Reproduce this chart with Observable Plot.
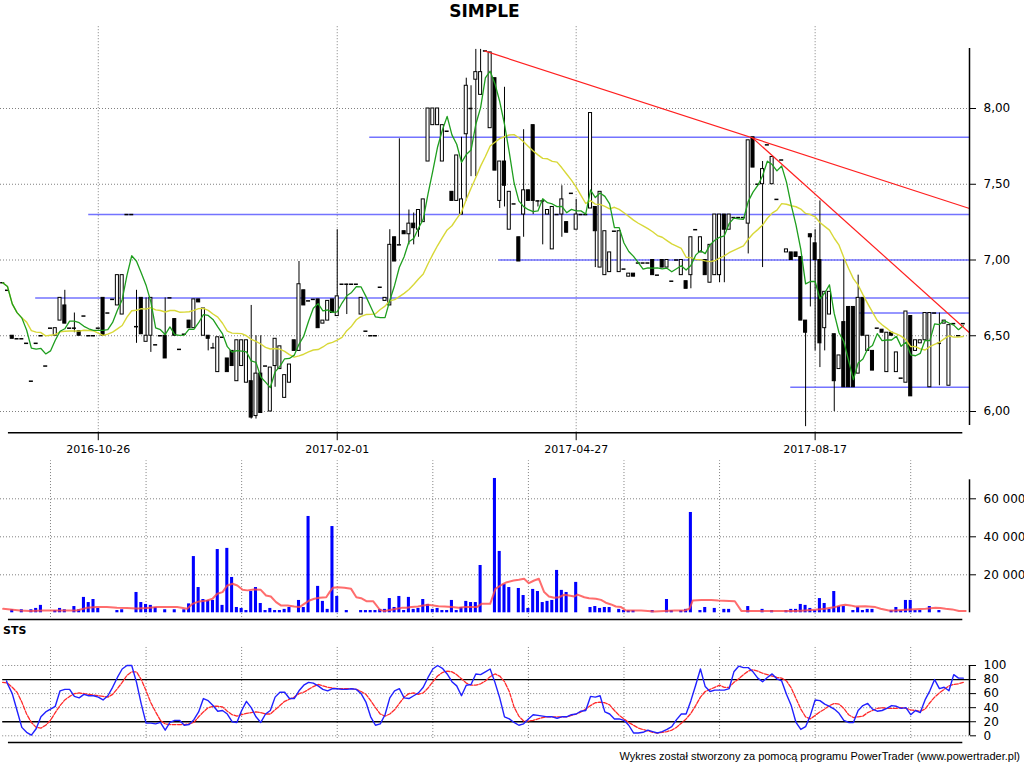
<!DOCTYPE html>
<html><head><meta charset="utf-8">
<script src="https://cdn.jsdelivr.net/npm/d3@7"></script>
<script src="https://cdn.jsdelivr.net/npm/@observablehq/plot@0.6"></script>
<style>
body{margin:0;background:#fff;}
#wrap{position:relative;width:1024px;height:768px;overflow:hidden;background:#fff;font-family:"DejaVu Sans",sans-serif;color:#000;}
#wrap svg{position:absolute;left:0;overflow:visible;}
.title{position:absolute;left:0;width:969px;top:0px;line-height:22px;text-align:center;font-weight:bold;font-size:17px;}
.sts{position:absolute;left:3px;top:624px;line-height:14px;font-weight:bold;font-size:11px;}
.foot{position:absolute;right:4px;top:749px;line-height:15px;font-family:"Liberation Sans",sans-serif;font-size:11px;}
</style></head><body>
<div id="wrap">
<div class="title">SIMPLE</div>
<div class="sts">STS</div>
<div class="foot">Wykres został stworzony za pomocą programu PowerTrader (www.powertrader.pl)</div>
</div>
<script>
// ---- data ----
// price bars: [open, high, low, close], one per session (index = session number)
const priceBars = [
[6.85,6.85,6.85,6.85],[6.80,6.80,6.80,6.80],[6.50,6.50,6.48,6.48],[6.48,6.48,6.48,6.48],[6.48,6.48,6.48,6.48],
[6.45,6.45,6.45,6.45],[6.20,6.20,6.20,6.20],[6.45,6.45,6.45,6.45],[6.50,6.50,6.50,6.50],[6.30,6.30,6.30,6.30],
[6.55,6.55,6.55,6.55],[6.50,6.55,6.50,6.55],[6.60,6.75,6.60,6.75],[6.70,6.80,6.58,6.58],[6.55,6.55,6.55,6.55],
[6.55,6.65,6.52,6.55],[6.53,6.53,6.50,6.50],[6.63,6.63,6.63,6.63],[6.50,6.50,6.50,6.50],[6.50,6.50,6.50,6.50],
[6.55,6.55,6.55,6.55],[6.75,6.75,6.50,6.50],[6.65,6.65,6.65,6.65],[6.74,6.74,6.74,6.74],[6.70,6.90,6.70,6.90],
[6.64,6.90,6.64,6.90],[7.30,7.30,7.30,7.30],[7.30,7.30,7.30,7.30],[6.56,6.80,6.45,6.56],[6.75,6.75,6.51,6.51],
[6.46,6.75,6.46,6.50],[6.50,6.75,6.39,6.75],[6.44,6.44,6.44,6.44],[6.50,6.50,6.50,6.50],[6.50,6.75,6.35,6.35],
[6.75,6.75,6.75,6.75],[6.61,6.61,6.50,6.50],[6.41,6.41,6.41,6.41],[6.51,6.51,6.51,6.51],[6.60,6.60,6.55,6.55],
[6.55,6.74,6.55,6.74],[6.74,6.74,6.72,6.72],[6.50,6.68,6.50,6.68],[6.50,6.50,6.40,6.48],[6.42,6.45,6.42,6.42],
[6.26,6.49,6.26,6.49],[6.49,6.49,6.49,6.49],[6.35,6.35,6.26,6.26],[6.40,6.40,6.30,6.30],[6.20,6.47,6.20,6.47],
[6.30,6.47,6.30,6.47],[6.19,6.47,6.19,6.47],[6.20,6.70,5.95,5.96],[5.97,6.50,5.95,6.25],[6.25,6.50,5.99,5.99],
[6.30,6.30,6.30,6.30],[6.00,6.29,6.00,6.29],[6.30,6.48,6.16,6.48],[6.28,6.43,6.28,6.43],[6.09,6.24,6.09,6.24],
[6.19,6.31,6.19,6.31],[6.47,6.47,6.40,6.40],[6.40,6.99,6.40,6.84],[6.80,6.80,6.70,6.70],[6.73,6.73,6.73,6.73],
[6.74,6.74,6.74,6.74],[6.74,6.74,6.55,6.55],[6.58,6.60,6.58,6.60],[6.60,6.73,6.60,6.73],[6.74,6.74,6.65,6.65],
[6.63,7.20,6.63,6.76],[6.84,6.84,6.84,6.84],[6.84,6.84,6.64,6.84],[6.84,6.84,6.84,6.84],[6.84,6.84,6.84,6.84],
[6.64,6.75,6.64,6.75],[6.53,6.53,6.53,6.53],[6.50,6.50,6.50,6.50],[6.50,6.50,6.50,6.50],[6.82,6.82,6.82,6.82],
[6.73,6.75,6.73,6.75],[6.70,7.20,6.70,7.10],[7.15,7.15,6.99,6.99],[7.10,7.80,7.10,7.10],[7.19,7.19,7.17,7.17],
[7.17,7.33,7.10,7.24],[7.24,7.31,7.10,7.21],[7.20,7.33,7.15,7.33],[7.25,7.40,7.25,7.40],[7.65,8.00,7.65,8.00],
[7.89,8.00,7.89,8.00],[7.89,8.00,7.89,8.00],[7.65,7.89,7.65,7.89],[7.85,7.85,7.85,7.85],[7.45,7.45,7.39,7.39],
[7.39,7.69,7.39,7.69],[7.30,7.81,7.30,7.40],[7.83,8.20,7.39,8.15],[8.00,8.15,7.55,8.00],[8.19,8.39,7.55,8.24],
[8.09,8.39,8.09,8.24],[8.38,8.38,8.38,8.38],[7.87,8.37,7.87,8.37],[8.20,8.20,7.59,7.59],[7.39,7.65,7.34,7.65],
[7.65,8.14,7.35,7.49],[7.20,7.45,7.20,7.45],[7.37,7.37,7.37,7.37],[7.15,7.15,6.99,6.99],[7.30,7.86,7.15,7.46],
[7.46,7.46,7.39,7.39],[7.89,7.89,7.30,7.39],[7.39,7.39,7.35,7.39],[7.39,7.39,7.10,7.39],[7.30,7.33,7.30,7.33],
[7.07,7.35,7.07,7.35],[7.30,7.30,7.30,7.30],[7.30,7.49,7.15,7.40],[7.25,7.25,7.18,7.18],[7.44,7.44,7.44,7.44],
[7.20,7.40,7.20,7.30],[7.30,7.30,7.30,7.30],[7.30,7.30,7.30,7.30],[7.34,7.97,7.34,7.97],[7.35,7.35,6.95,7.19],
[6.95,7.45,6.95,7.45],[6.90,7.19,6.90,7.19],[6.92,7.05,6.92,7.05],[7.19,7.19,7.19,7.19],[6.92,7.19,6.92,7.19],
[6.94,6.94,6.94,6.94],[6.89,6.91,6.89,6.91],[6.91,6.91,6.89,6.89],[6.98,6.98,6.98,6.98],[6.98,6.98,6.98,6.98],
[6.98,6.98,6.98,6.98],[7.00,7.00,6.90,6.90],[6.90,6.90,6.90,6.90],[7.00,7.00,6.95,6.95],[6.95,7.00,6.95,7.00],
[6.86,6.86,6.86,6.86],[7.00,7.00,7.00,7.00],[6.90,7.00,6.90,7.00],[6.86,6.86,6.81,6.81],[6.90,7.15,6.81,7.15],
[7.20,7.20,7.20,7.20],[7.05,7.15,7.05,7.15],[7.00,7.00,6.90,6.90],[6.85,7.10,6.85,7.10],[6.90,7.30,6.90,7.30],
[6.90,7.30,6.85,7.30],[7.30,7.30,6.85,7.20],[7.20,7.30,7.20,7.30],[7.28,7.28,7.28,7.28],[7.28,7.28,7.28,7.28],
[7.28,7.28,7.28,7.28],[7.24,7.79,7.04,7.79],[7.81,7.81,7.61,7.61],[7.50,7.50,7.50,7.50],[7.50,7.65,6.95,7.60],
[7.76,7.76,7.76,7.76],[7.50,7.68,7.50,7.68],[7.40,7.40,7.40,7.40],[7.66,7.66,7.66,7.66],[7.05,7.07,7.05,7.07],
[7.05,7.05,7.00,7.00],[7.05,7.05,7.02,7.02],[7.02,7.02,6.60,6.60],[6.60,6.60,5.90,6.52],[7.17,7.17,6.69,7.15],
[7.11,7.20,6.40,7.00],[7.00,7.39,6.29,6.45],[6.55,6.79,6.40,6.79],[6.64,6.79,6.64,6.79],[6.51,6.51,6.00,6.20],
[6.28,6.37,6.28,6.37],[6.59,7.00,6.16,6.16],[6.69,6.69,6.16,6.16],[6.69,6.69,6.16,6.16],[6.25,6.90,6.25,6.75],
[6.75,6.75,6.50,6.50],[6.40,6.50,6.40,6.50],[6.40,6.40,6.27,6.27],[6.55,6.55,6.55,6.55],[6.54,6.54,6.52,6.52],
[6.26,6.52,6.26,6.52],[6.52,6.52,6.50,6.50],[6.26,6.39,6.26,6.39],[6.22,6.22,6.22,6.22],[6.19,6.66,6.19,6.66],
[6.63,6.63,6.10,6.10],[6.40,6.47,6.40,6.47],[6.45,6.47,6.45,6.47],[6.47,6.65,6.47,6.65],[6.16,6.65,6.16,6.65],
[6.65,6.65,6.65,6.65],[6.45,6.65,6.17,6.45],[6.58,6.60,6.58,6.60],[6.17,6.57,6.17,6.57],[6.58,6.58,6.58,6.58],
[6.50,6.50,6.50,6.50],[6.58,6.58,6.58,6.58]
];

// volume: [session, shares]
const volumeBars = [
[2,1600],[4,1600],[6,1600],[7,2300],[8,3900],[11,1200],[12,2300],[13,1600],[15,3300],[16,1600],[17,8100],[18,5400],[19,7000],[20,2300],
[24,1200],[25,1600],[28,10700],[29,5400],[30,4400],[31,3900],[32,2800],[34,1600],[36,1600],[38,1600],[39,4700],[40,29600],[41,13300],
[42,7000],[43,6500],[44,6500],[45,33300],[46,3900],[47,33900],[48,18600],[49,2800],[50,2300],[51,1200],[52,11200],[53,13300],[54,4900],
[55,1200],[56,2300],[57,1200],[58,1200],[59,1800],[60,2800],[62,6500],[63,2800],[64,50700],[66,13900],[67,6000],[68,1800],[69,45400],
[70,8600],[72,1200],[75,1200],[76,1200],[77,1200],[78,1200],[79,1800],[80,1800],[81,7500],[82,2800],[83,8600],[84,1200],[85,8100],
[86,1800],[87,2300],[88,7000],[89,4400],[90,1800],[91,2300],[92,1200],[93,1200],[94,6500],[95,1200],[96,2800],[97,6000],[98,5400],
[99,5400],[100,24900],[103,70700],[104,32300],[105,14900],[106,13300],[108,12800],[109,9100],[110,2300],[111,12300],[112,11200],
[113,5400],[114,6000],[115,6500],[116,22300],[117,11800],[118,10700],[120,16000],[123,2800],[124,3300],[125,2300],[126,2800],[127,2800],
[129,1800],[130,1200],[131,1200],[132,1200],[136,1200],[139,7000],[140,1200],[142,1200],[143,1800],[144,52800],[146,1200],[147,2800],
[149,2300],[151,1800],[152,1800],[156,3300],[159,1800],[161,1200],[164,1200],[165,1800],[166,1800],[167,4400],[168,3900],[169,2300],
[170,1200],[171,7500],[172,4900],[173,1800],[174,11200],[175,3300],[176,3300],[178,1200],[179,2800],[180,1200],[181,1800],[182,1800],
[186,1200],[187,2800],[188,1200],[189,6500],[190,6500],[191,1200],[192,1200],[194,3300],[196,1200]
];

// volume moving average: [session, shares]
const volumeMA = [
[0.1,2100],[3.6,1200],[5.7,900],[8.5,1200],[15.5,1200],[17.6,2600],[19.7,3000],[21.8,3000],[23.9,2600],[26.0,2500],[28.1,2300],
[30.2,2500],[32.3,3000],[34.4,3000],[36.5,3000],[38.6,2100],[39.7,4700],[41.1,6000],[42.8,6500],[43.9,7400],[44.9,10000],[46.0,10900],
[47.0,14400],[48.1,15300],[49.1,14400],[50.2,12100],[51.2,11800],[52.6,12300],[54.0,12100],[55.1,9100],[56.1,8600],[57.2,5600],
[58.2,3900],[59.6,3900],[61.0,3300],[62.1,3000],[63.1,4700],[64.2,6500],[65.2,7400],[66.3,7900],[67.7,8200],[68.4,10900],[69.1,13200],
[70.1,13500],[71.5,13200],[72.9,12600],[74.0,8200],[75.0,7700],[76.1,6100],[77.5,6100],[78.2,3900],[78.9,1600],[79.9,900],[81.3,1600],
[82.4,2100],[83.5,2600],[84.5,2600],[85.5,3000],[86.9,3300],[88.0,3900],[89.0,4200],[90.1,3900],[91.2,3500],[92.5,3300],[94.0,3000],
[95.4,2600],[96.8,3000],[98.1,3000],[99.2,3000],[100.2,4700],[102.0,4700],[103.1,12600],[104.5,14900],[105.5,16100],[106.9,17000],
[108.0,17400],[109.1,17900],[110.1,15600],[111.2,17000],[112.2,17900],[113.3,10900],[114.3,8600],[115.4,7900],[116.4,8200],[117.5,9500],
[118.5,9100],[119.6,8600],[120.3,9600],[121.7,8200],[122.7,7700],[124.1,7400],[125.2,6800],[126.2,5300],[127.3,4400],[128.3,3300],
[129.4,3000],[130.4,1200],[133.6,1200],[136.4,700],[140.6,1200],[142.7,1200],[143.7,2100],[144.4,6500],[146.2,6800],[148.3,6800],
[149.7,6500],[153.2,6100],[154.6,900],[157.4,900],[161.6,900],[165.8,900],[167.9,1200],[170.0,1600],[172.1,2100],[174.2,3000],
[175.3,3900],[176.3,4200],[177.4,3900],[178.4,3300],[180.5,3500],[182.6,3000],[183.7,2100],[185.4,1200],[186.8,1200],[188.9,1600],
[191.0,1900],[193.1,2100],[195.2,2600],[196.2,2500],[197.3,2100],[198.7,1800],[200.1,900],[201.5,900]
];

// stochastic oscillator %K and %D, one per session
const stsK = [78,74,60,36,12,5,1,10,27,34,38,42,64,66,66,56,54,59,57,57,55,51,57,69,83,95,100,100,76,45,
18,18,17,19,8,19,22,22,15,16,23,34,53,50,43,35,36,31,20,19,36,49,40,27,19,31,36,55,62,62,
53,53,64,72,76,75,71,66,64,67,67,66,66,67,66,60,48,27,15,17,30,54,64,67,54,53,57,61,69,83,
95,100,96,88,77,71,57,72,73,88,87,91,95,76,54,27,24,19,15,17,24,30,29,28,27,27,25,27,27,30,
31,35,36,56,55,57,34,31,24,24,22,15,4,4,5,8,6,4,6,9,13,23,31,31,50,72,95,70,63,65,
65,65,67,91,99,97,97,91,82,77,83,88,81,78,59,43,19,9,13,29,51,50,45,42,38,32,22,19,19,36,
43,46,38,35,36,39,43,42,39,40,30,36,33,51,64,80,67,69,64,87,82,82];
const stsD = [76,75,69,62,48,31,19,12,11,15,22,33,43,51,56,60,61,60,59,58,57,56,55,59,67,76,86,91,91,80,
64,47,34,22,17,16,16,16,16,17,19,27,34,40,42,42,41,35,30,28,30,32,33,34,33,31,31,37,43,49,
52,55,60,62,66,70,73,71,69,68,67,67,67,67,66,63,59,50,40,31,28,31,37,46,55,60,61,59,61,68,
77,85,90,92,91,87,81,75,72,72,74,78,84,88,85,77,63,41,28,21,21,22,24,26,27,27,27,27,27,29,
31,34,38,43,47,48,47,44,36,29,24,19,15,11,9,7,5,4,5,6,8,12,18,24,32,43,55,63,66,69,
72,69,69,76,81,87,92,94,92,89,87,85,83,82,78,68,53,38,27,24,29,34,38,43,46,45,39,30,26,27,
28,33,36,39,40,39,39,39,40,39,37,36,35,38,47,55,61,66,71,73,74,76];

// axes / reference values
const dateTicks = [20, 70, 120, 170];
const dateLabels = ["2016-10-26", "2017-02-01", "2017-04-27", "2017-08-17"];
const subGrid = [10, 30, 50, 70, 90, 110, 130, 150, 170, 190];
const priceTicks = [6.0, 6.5, 7.0, 7.5, 8.0];
const volumeTicks = [20000, 40000, 60000];
const stsTicks = [0, 20, 40, 60, 80, 100];
const stsLevels = [20, 80];
const stsGrid = [0, 40, 60, 100];
// support / resistance levels: price and the session where each starts
const levelPrice = [7.81, 7.30, 7.00, 6.75, 6.65, 6.16];
const levelStart = [76.8, 18.0, 103.8, 6.9, 178.9, 164.9];
// trend lines: [session1, price1, session2, price2]
const trendLines = [[100.8, 8.38, 202.3, 7.34], [156.9, 7.806, 202.3, 6.52]];

// ---- drawing ----
const XMIN = -0.46, XMAX = 202.3, XL = 1.2, XR = 200.9;
const bars = priceBars.map(([o, h, l, c], i) => ({i, o, h, l, c}));
const levels = levelPrice.map((p, k) => ({p, s: levelStart[k]}));
const dot = {stroke: "#808080", strokeDasharray: "1,2", strokeWidth: 1};
const base = {
  width: 1024, marginLeft: 0, marginRight: 55,
  x: {domain: [XMIN, XMAX], axis: null},
  style: {fontFamily: "DejaVu Sans", fontSize: "11px", background: "transparent", color: "black", overflow: "visible"}
};
const fmtComma = d => d.toFixed(2).replace(".", ",");
const fmtSpace = d => d3.format(",")(d).replace(/,/g, " ");

const price = Plot.plot({
  ...base, height: 470, marginTop: 39.825, marginBottom: 37.79,
  y: {domain: [5.86, 8.45], axis: null},
  marks: [
    Plot.ruleY(priceTicks, {x1: XMIN, x2: XMAX, ...dot}),
    Plot.ruleX(dateTicks, {y1: 5.86, y2: 8.55, ...dot}),
    Plot.ruleY(levels, {y: "p", x1: "s", x2: XMAX, stroke: "#5a5aff", strokeWidth: 1.5, strokeOpacity: 0.85}),
    Plot.ruleX(bars.filter(d => d.h > d.l), {x: "i", y1: "l", y2: "h", stroke: "black", strokeWidth: 1}),
    Plot.rect(bars.filter(d => Math.abs(d.c - d.o) > 0.001), {
      x1: d => d.i - 0.32, x2: d => d.i + 0.32, y1: "o", y2: "c",
      fill: d => d.c > d.o ? "white" : "black", stroke: "black", strokeWidth: 1
    }),
    Plot.ruleY(bars.filter(d => Math.abs(d.c - d.o) <= 0.001), {y: "c", x1: d => d.i - 0.42, x2: d => d.i + 0.42, stroke: "black", strokeWidth: 1.5}),
    Plot.lineY(bars, Plot.windowY({k: 20, anchor: "end"}, {x: "i", y: "c", stroke: "#d8d838", strokeWidth: 1.4})),
    Plot.lineY(bars, Plot.windowY({k: 5, anchor: "end"}, {x: "i", y: "c", stroke: "#1e9e1e", strokeWidth: 1.3})),
    Plot.link(trendLines, {x1: d => d[0], y1: d => d[1], x2: d => d[2], y2: d => d[3], stroke: "#ff2020", strokeWidth: 1.2}),
    Plot.ruleX([XMAX], {y1: 5.908, y2: 8.396, stroke: "black", strokeWidth: 1.5}),
    Plot.ruleY([5.86], {x1: XL, x2: XR, stroke: "black", strokeWidth: 1.5}),
    Plot.axisY({anchor: "right", ticks: priceTicks, tickFormat: fmtComma, tickSize: 6, tickPadding: 8, fontSize: 12}),
    Plot.axisX({anchor: "bottom", ticks: dateTicks, tickFormat: d => dateLabels[dateTicks.indexOf(d)], tickSize: 8, tickPadding: 4, fontSize: 11})
  ]
});
price.style.top = "0px";

const volume = Plot.plot({
  ...base, height: 170, marginTop: 24.3, marginBottom: 12.7,
  y: {domain: [0, 70000], axis: null},
  marks: [
    Plot.ruleY(volumeTicks, {x1: XMIN, x2: XMAX, ...dot}),
    Plot.ruleX(subGrid, {y1: -2500, y2: 80000, ...dot}),
    Plot.rect(volumeBars, {x1: d => d[0] - 0.32, x2: d => d[0] + 0.32, y1: 0, y2: d => d[1], fill: "#0000ff"}),
    Plot.line(volumeMA, {x: d => d[0], y: d => d[1], stroke: "#ff4848", strokeWidth: 2, strokeOpacity: 0.8, curve: "linear"}),
    Plot.ruleX([XMAX], {y1: 0, y2: 70000, stroke: "black", strokeWidth: 1.5}),
    Plot.ruleY([-3526], {x1: XL, x2: XR, stroke: "black", strokeWidth: 1.5}),
    Plot.axisY({anchor: "right", ticks: volumeTicks, tickFormat: fmtSpace, tickSize: 6, tickPadding: 8, fontSize: 12})
  ]
});
volume.style.top = "455px";

const sts = Plot.plot({
  ...base, height: 125, marginTop: 40, marginBottom: 14.7,
  y: {domain: [0, 100], axis: null},
  marks: [
    Plot.ruleY(stsGrid, {x1: 0, x2: XMAX, ...dot}),
    Plot.ruleX(subGrid, {y1: -3.8, y2: 128.4, ...dot}),
    Plot.ruleY(stsLevels, {x1: 0, x2: XMAX, stroke: "black", strokeWidth: 1.3}),
    Plot.lineY(stsD, {x: (d, i) => i, y: d => d, stroke: "#ff2a2a", strokeWidth: 1.3, strokeDasharray: "4,1.5"}),
    Plot.lineY(stsK, {x: (d, i) => i === 0 ? 0.8 : i, y: d => d, stroke: "#2020ff", strokeWidth: 1.4}),
    Plot.ruleX([XMAX], {y1: 0, y2: 100, stroke: "black", strokeWidth: 1.5}),
    Plot.ruleY([-9.5], {x1: XL, x2: XR, stroke: "black", strokeWidth: 1.5}),
    Plot.axisY({anchor: "right", ticks: stsTicks, tickSize: 6, tickPadding: 8, fontSize: 12})
  ]
});
sts.style.top = "625px";

const wrap = document.getElementById("wrap");
wrap.appendChild(price);
wrap.appendChild(volume);
wrap.appendChild(sts);
</script>
</body></html>
